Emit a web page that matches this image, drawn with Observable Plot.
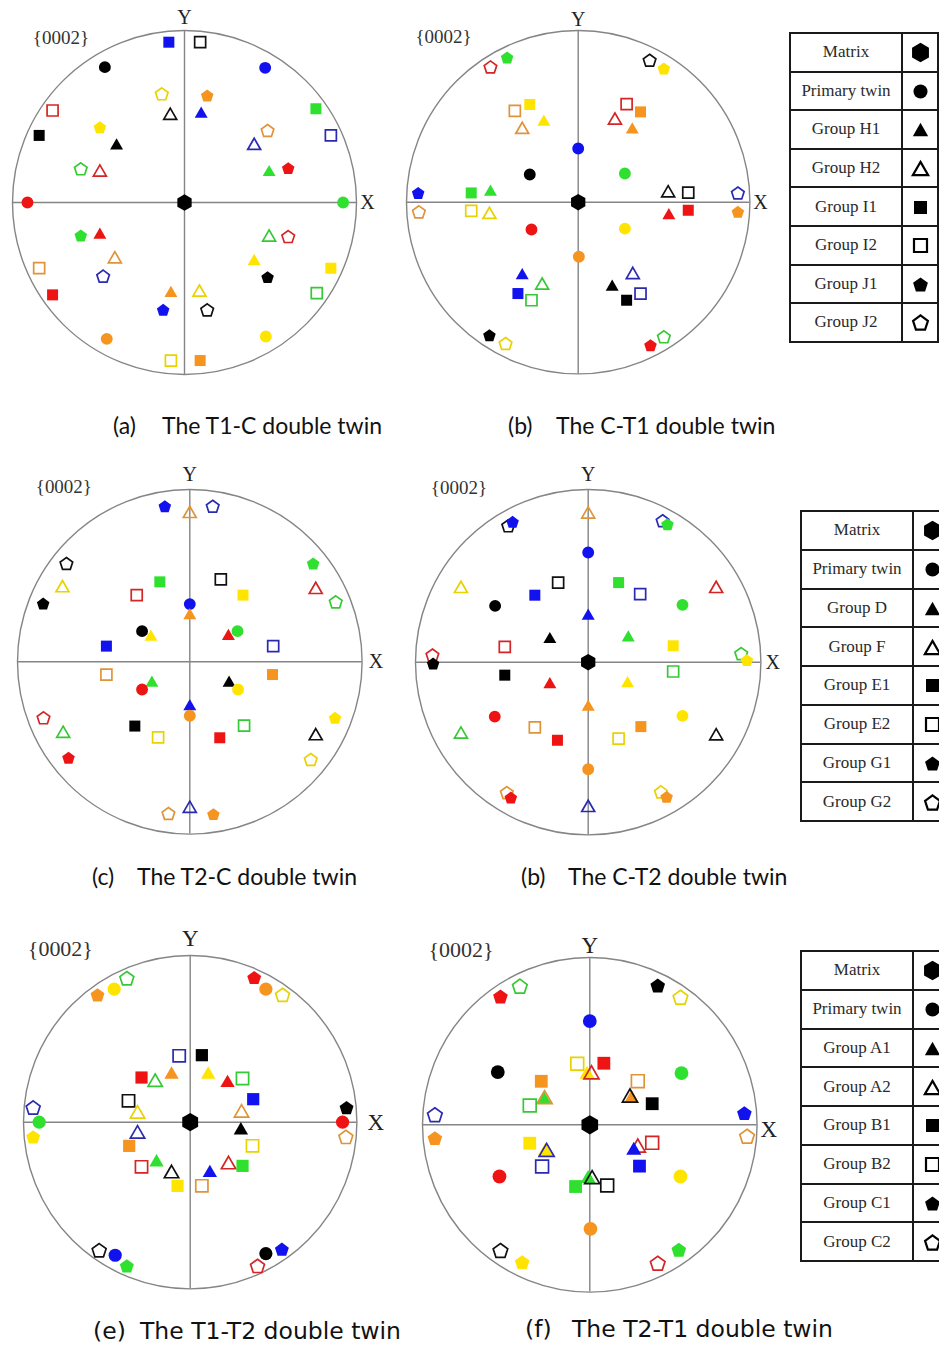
<!DOCTYPE html>
<html><head><meta charset="utf-8">
<script src="https://cdn.jsdelivr.net/npm/d3@7"></script>
<script src="https://cdn.jsdelivr.net/npm/@observablehq/plot@0.6"></script>
<style>
html,body{margin:0;padding:0;background:#fff;}
body{position:relative;width:939px;height:1346px;overflow:hidden;}
.fig{position:absolute;}
.fig svg{max-width:none;overflow:visible;background:transparent;}
.cap{position:absolute;white-space:pre;color:#111;line-height:28px;height:28px;}
.cap12{font-family:Lato,"Open Sans",sans-serif;font-size:23px;}
.cap3{font-family:"DejaVu Sans",sans-serif;font-size:23.5px;}
table.leg{position:absolute;border-collapse:collapse;table-layout:fixed;}
table.leg td{border:2px solid #1a1a1a;padding:0;text-align:center;vertical-align:middle;font-family:"Liberation Serif",serif;font-size:17px;color:#2a2a2a;}
table.leg td.sym svg{display:block;margin:0 auto;max-width:none;background:transparent;}
</style></head><body>
<script>
// ---------- DATA: [x, y, colour, shape]  (shape: H hexagon, C circle, T/t triangle filled/open, S/s square, P/p pentagon) ----------
const poleA = [
 [0,0,"k","H"],
 [-0.091,0.932,"b","S"],[0.091,0.932,"k","s"],
 [-0.463,0.787,"k","C"],[0.469,0.783,"b","C"],
 [-0.132,0.632,"y","p"],[0.132,0.622,"o","P"],
 [-0.083,0.516,"k","t"],[0.097,0.525,"b","T"],
 [-0.767,0.535,"r","s"],[0.764,0.545,"g","S"],
 [-0.492,0.438,"y","P"],[-0.845,0.390,"k","S"],
 [0.483,0.419,"o","p"],[0.851,0.390,"b","s"],
 [-0.395,0.341,"k","T"],[0.405,0.341,"b","t"],
 [-0.603,0.196,"g","p"],[-0.492,0.186,"r","t"],
 [0.492,0.186,"g","T"],[0.603,0.200,"r","P"],
 [-0.913,0,"r","C"],[0.922,0,"g","C"],
 [-0.603,-0.192,"g","P"],[-0.492,-0.178,"r","T"],
 [0.492,-0.192,"g","t"],[0.603,-0.198,"r","p"],
 [-0.405,-0.318,"o","t"],[0.405,-0.331,"y","T"],
 [-0.845,-0.382,"o","s"],[0.851,-0.382,"y","S"],
 [-0.473,-0.428,"b","p"],[0.483,-0.434,"k","P"],
 [-0.767,-0.537,"r","S"],[0.769,-0.527,"g","s"],
 [-0.079,-0.517,"o","T"],[0.087,-0.512,"y","t"],
 [-0.124,-0.624,"b","P"],[0.132,-0.624,"k","p"],
 [-0.452,-0.793,"o","C"],[0.473,-0.779,"y","C"],
 [-0.079,-0.919,"y","s"],[0.091,-0.919,"o","S"]
];
const poleB = [
 [0,0,"k","H"],
 [-0.511,0.788,"r","p"],[-0.414,0.843,"g","P"],
 [0.416,0.827,"k","p"],[0.499,0.779,"y","P"],
 [-0.369,0.532,"o","s"],[-0.282,0.569,"y","S"],
 [-0.200,0.478,"y","T"],[-0.326,0.433,"o","t"],
 [0.282,0.571,"r","s"],[0.363,0.526,"o","S"],
 [0.214,0.487,"r","t"],[0.315,0.433,"o","T"],
 [0,0.313,"b","C"],[-0.282,0.161,"k","C"],[0.272,0.167,"g","C"],
 [-0.932,0.054,"b","P"],[-0.623,0.054,"g","S"],[-0.511,0.070,"g","T"],
 [0.524,0.064,"k","t"],[0.641,0.056,"k","s"],[0.930,0.054,"b","p"],
 [-0.928,-0.056,"o","p"],[-0.623,-0.050,"y","s"],[-0.517,-0.062,"y","t"],
 [0.528,-0.066,"r","T"],[0.641,-0.047,"r","S"],[0.930,-0.056,"o","P"],
 [-0.272,-0.159,"r","C"],[0.272,-0.154,"y","C"],[0.004,-0.318,"o","C"],
 [-0.326,-0.416,"b","T"],[-0.210,-0.474,"g","t"],
 [-0.351,-0.532,"b","S"],[-0.272,-0.571,"g","s"],
 [0.318,-0.412,"b","t"],[0.198,-0.483,"k","T"],
 [0.363,-0.532,"b","s"],[0.282,-0.571,"k","S"],
 [-0.517,-0.775,"k","P"],[-0.423,-0.823,"y","p"],
 [0.421,-0.833,"r","P"],[0.499,-0.784,"g","p"]
];
const poleC = [
 [-0.145,0.903,"b","P"],[0,0.870,"o","t"],[0.133,0.903,"b","p"],
 [-0.716,0.571,"k","p"],[-0.739,0.439,"y","t"],[-0.851,0.338,"k","P"],
 [0.716,0.571,"g","P"],[0.731,0.429,"r","t"],[0.847,0.348,"g","p"],
 [-0.174,0.464,"g","S"],[-0.308,0.387,"r","s"],
 [0.180,0.478,"k","s"],[0.309,0.387,"y","S"],
 [0,0.335,"b","C"],[0,0.280,"o","T"],
 [-0.277,0.178,"k","C"],[-0.226,0.155,"y","T"],
 [0.224,0.159,"r","T"],[0.277,0.178,"g","C"],
 [-0.484,0.091,"b","S"],[0.484,0.091,"b","s"],
 [-0.484,-0.074,"o","s"],[0.480,-0.074,"o","S"],
 [-0.220,-0.112,"g","T"],[-0.277,-0.161,"r","C"],
 [0.228,-0.112,"k","T"],[0.280,-0.161,"y","C"],
 [0,-0.248,"b","T"],[0,-0.313,"o","C"],
 [-0.849,-0.325,"r","p"],[-0.735,-0.406,"g","t"],[-0.704,-0.557,"r","P"],
 [0.843,-0.325,"y","P"],[0.731,-0.420,"k","t"],[0.702,-0.567,"y","p"],
 [-0.319,-0.373,"k","S"],[-0.184,-0.439,"y","s"],
 [0.315,-0.371,"g","s"],[0.174,-0.441,"r","S"],
 [0,-0.841,"b","t"],[-0.124,-0.880,"o","p"],[0.137,-0.884,"o","P"]
];
const poleD = [
 [0,0,"k","H"],
 [0,0.867,"o","t"],
 [-0.463,0.790,"k","p"],[-0.438,0.813,"b","P"],
 [0.431,0.819,"b","p"],[0.459,0.799,"g","P"],
 [0,0.635,"b","C"],
 [-0.737,0.436,"y","t"],[-0.539,0.326,"k","C"],
 [-0.174,0.461,"k","s"],[-0.309,0.388,"b","S"],
 [0.176,0.461,"g","S"],[0.301,0.394,"b","s"],
 [0.741,0.436,"r","t"],[0.546,0.332,"g","C"],
 [0,0.278,"b","T"],[-0.222,0.143,"k","T"],[0.232,0.153,"g","T"],
 [-0.483,0.089,"r","s"],[0.492,0.095,"y","S"],
 [-0.902,0.042,"r","p"],[-0.898,-0.008,"k","P"],
 [0.886,0.050,"g","p"],[0.919,0.012,"y","P"],
 [-0.483,-0.075,"k","S"],[0.492,-0.054,"g","s"],
 [-0.222,-0.118,"r","T"],[0.228,-0.112,"y","T"],
 [0,-0.249,"o","T"],
 [-0.541,-0.315,"r","C"],[0.546,-0.311,"y","C"],
 [-0.309,-0.378,"o","s"],[-0.178,-0.452,"r","S"],
 [0.176,-0.442,"y","s"],[0.305,-0.373,"o","S"],
 [-0.737,-0.407,"g","t"],[0.741,-0.417,"k","t"],
 [0,-0.620,"o","C"],
 [-0.471,-0.755,"o","p"],[-0.448,-0.784,"r","P"],
 [0.421,-0.751,"y","p"],[0.454,-0.780,"o","P"],
 [0,-0.832,"b","t"]
];
const poleE = [
 [0,0,"k","H"],
 [-0.556,0.764,"o","P"],[-0.456,0.798,"y","C"],[-0.380,0.864,"g","p"],
 [0.384,0.868,"r","P"],[0.454,0.798,"o","C"],[0.554,0.764,"y","p"],
 [-0.066,0.398,"b","s"],[0.070,0.402,"k","S"],
 [-0.292,0.268,"r","S"],[-0.210,0.252,"g","t"],[-0.112,0.298,"o","T"],
 [0.108,0.298,"y","T"],[0.224,0.248,"r","T"],[0.314,0.262,"g","s"],
 [0.378,0.138,"b","S"],[-0.370,0.128,"k","s"],
 [-0.316,0.062,"y","t"],[0.308,0.068,"o","t"],
 [-0.942,0.088,"b","p"],[-0.906,0,"g","C"],[-0.942,-0.088,"y","P"],
 [0.938,0.088,"k","P"],[0.914,0,"r","C"],[0.934,-0.088,"o","p"],
 [-0.316,-0.058,"b","t"],[0.304,-0.036,"k","T"],
 [-0.366,-0.142,"o","S"],[0.374,-0.142,"y","s"],
 [-0.292,-0.268,"r","s"],[-0.202,-0.228,"g","T"],[-0.112,-0.296,"k","t"],
 [-0.076,-0.382,"y","S"],[0.070,-0.382,"o","s"],
 [0.118,-0.292,"b","T"],[0.230,-0.242,"r","t"],[0.314,-0.262,"g","S"],
 [-0.546,-0.768,"k","p"],[-0.450,-0.798,"b","C"],[-0.380,-0.862,"g","P"],
 [0.454,-0.788,"k","C"],[0.550,-0.762,"b","P"],[0.404,-0.862,"r","p"]
];
const poleF = [
 [0,0,"k","H"],
 [-0.534,0.767,"r","P"],[-0.418,0.829,"g","p"],
 [0.406,0.833,"k","P"],[0.542,0.763,"y","p"],
 [0,0.620,"b","C"],[-0.550,0.315,"k","C"],[0.548,0.309,"g","C"],
 [-0.075,0.365,"y","s"],[0.084,0.368,"r","S"],
 [-0.016,0.314,"y","T"],[0.010,0.314,"r","t"],
 [-0.290,0.260,"o","S"],[0.287,0.261,"o","s"],
 [-0.275,0.165,"g","T"],[-0.270,0.165,"o","t"],
 [0.250,0.170,"o","T"],[0.240,0.175,"k","t"],
 [0.373,0.126,"k","S"],[-0.359,0.115,"g","s"],
 [-0.926,0.060,"b","p"],[-0.926,-0.080,"o","P"],
 [0.924,0.070,"b","P"],[0.940,-0.068,"o","p"],
 [-0.359,-0.110,"y","S"],
 [-0.265,-0.145,"y","T"],[-0.258,-0.150,"b","t"],
 [-0.285,-0.249,"b","s"],
 [0.287,-0.124,"r","t"],[0.263,-0.140,"b","T"],
 [0.373,-0.108,"r","s"],[0.297,-0.247,"b","S"],
 [-0.010,-0.309,"g","T"],[0.014,-0.313,"k","t"],
 [-0.085,-0.369,"g","S"],[0.104,-0.363,"k","s"],
 [-0.540,-0.309,"r","C"],[0.542,-0.309,"y","C"],[0.004,-0.622,"o","C"],
 [-0.534,-0.751,"k","p"],[-0.404,-0.821,"y","P"],
 [0.406,-0.827,"r","p"],[0.532,-0.747,"g","P"]
];
const legendAB = ["Matrix","Primary twin","Group H1","Group H2","Group I1","Group I2","Group J1","Group J2"];
const legendCD = ["Matrix","Primary twin","Group D","Group F","Group E1","Group E2","Group G1","Group G2"];
const legendEF = ["Matrix","Primary twin","Group A1","Group A2","Group B1","Group B2","Group C1","Group C2"];
const legendShapes = ["H","C","T","t","S","s","P","p"];
const captionTags = ["(a)","(b)","(c)","(b)","(e)","(f)"];
const captionTexts = ["The T1-C double twin","The C-T1 double twin","The T2-C double twin","The C-T2 double twin","The T1-T2 double twin","The T2-T1 double twin"];
const axisTexts = ["{0002}","Y","X"];

// ---------- STYLE ----------
const FILL = {k:"#000000", b:"#1212ee", r:"#ee1414", g:"#2fe02f", y:"#ffe400", o:"#f5951f"};
const STROKE = {k:"#111111", b:"#2a2ab0", r:"#d42626", g:"#35c935", y:"#e8d200", o:"#e0943a"};
const BASE = {H:7.5, C:5.4, T:6.8, S:5.0, P:6.0};
function makeSymbol(kind) {
  return {draw(ctx, size) {
    const u = Math.sqrt(size / Math.PI), r = BASE[kind] * u;
    if (kind === "C") { ctx.moveTo(r, 0); ctx.arc(0, 0, r, 0, 2 * Math.PI); ctx.closePath(); return; }
    if (kind === "S") { ctx.moveTo(-r, -r); ctx.lineTo(r, -r); ctx.lineTo(r, r); ctx.lineTo(-r, r); ctx.closePath(); return; }
    const n = kind === "T" ? 3 : kind === "P" ? 5 : 6;
    const shift = kind === "T" ? 0.25 * r : kind === "P" ? 0.095 * r : 0;
    for (let i = 0; i < n; i++) {
      const a = 2 * Math.PI * i / n, px = r * Math.sin(a), py = -r * Math.cos(a) + shift;
      if (i) ctx.lineTo(px, py); else ctx.moveTo(px, py);
    }
    ctx.closePath();
  }};
}
const SYM = {H: makeSymbol("H"), C: makeSymbol("C"), T: makeSymbol("T"), S: makeSymbol("S"), P: makeSymbol("P")};
const isOpen = s => s !== s.toUpperCase();

const figs = [
 {data: poleA, cx:183.7, cy:202,    R:172,   k:1.1,  fsTag:19, fsXY:20, tag:[-0.882,0.959], Y:[0,1.077], X:[1.064,0]},
 {data: poleB, cx:577.7, cy:202,    R:171.7, k:1.1,  fsTag:19, fsXY:20, tag:[-0.948,0.961], Y:[0,1.064], X:[1.062,0]},
 {data: poleC, cx:189,   cy:661.7,  R:172.3, k:1.1,  fsTag:19, fsXY:20, tag:[-0.894,1.014], Y:[0,1.089], X:[1.080,0]},
 {data: poleD, cx:587.3, cy:661.3,  R:172.7, k:1.1,  fsTag:19, fsXY:20, tag:[-0.911,1.009], Y:[0,1.089], X:[1.068,0]},
 {data: poleE, cx:189.3, cy:1121.3, R:166.7, k:1.22, fsTag:22, fsXY:23, tag:[-0.974,1.040], Y:[0,1.101], X:[1.114,0]},
 {data: poleF, cx:589.3, cy:1124.3, R:167.3, k:1.28, fsTag:22, fsXY:23, tag:[-0.964,1.048], Y:[0,1.072], X:[1.070,-0.028]}
];
const M = 40;
const GRAY = "#858585";
const serif = "'Liberation Serif', 'Times New Roman', serif";

figs.forEach(f => {
  const W = 2 * f.R + 2 * M;
  const labels = [
    {x: f.tag[0], y: f.tag[1], t: axisTexts[0], a: "start", fs: f.fsTag},
    {x: f.Y[0], y: f.Y[1], t: axisTexts[1], a: "middle", fs: f.fsXY},
    {x: f.X[0], y: f.X[1], t: axisTexts[2], a: "middle", fs: f.fsXY}
  ];
  const chart = Plot.plot({
    width: W, height: W, margin: M,
    x: {domain: [-1, 1]}, y: {domain: [-1, 1]}, axis: null,
    symbol: {type: "identity"}, color: {type: "identity"},
    style: {background: "transparent", overflow: "visible"},
    marks: [
      Plot.ruleX([0], {y1: -1, y2: 1, stroke: GRAY, strokeWidth: 1.4}),
      Plot.ruleY([0], {x1: -1, x2: 1, stroke: GRAY, strokeWidth: 1.4}),
      Plot.dot([[0, 0]], {x: d => d[0], y: d => d[1], r: f.R, fill: "none", stroke: GRAY, strokeWidth: 1.4}),
      Plot.dot(f.data, {
        x: d => d[0], y: d => d[1],
        symbol: d => SYM[d[3].toUpperCase()],
        r: f.k,
        fill: d => isOpen(d[3]) ? "none" : FILL[d[2]],
        stroke: d => isOpen(d[3]) ? STROKE[d[2]] : "none",
        strokeWidth: 1.7
      }),
      Plot.text(labels.filter(l => l.a === "start"), {x: "x", y: "y", text: "t", textAnchor: "start", fontSize: f.fsTag, fontFamily: serif, fill: "#333"}),
      Plot.text(labels.filter(l => l.a === "middle"), {x: "x", y: "y", text: "t", textAnchor: "middle", fontSize: f.fsXY, fontFamily: serif, fill: "#222"})
    ]
  });
  const div = document.createElement("div");
  div.className = "fig";
  div.style.left = (f.cx - f.R - M) + "px";
  div.style.top = (f.cy - f.R - M) + "px";
  div.style.width = W + "px";
  div.appendChild(chart);
  document.body.appendChild(div);
});

// captions
const capLayout = [
 {tx:113, x:162, y:425, cls:"cap12"}, {tx:508, x:556, y:425, cls:"cap12"},
 {tx:92,  x:137, y:876, cls:"cap12"}, {tx:521, x:568, y:876, cls:"cap12"},
 {tx:93,  x:140, y:1331, cls:"cap3"}, {tx:525, x:572, y:1329, cls:"cap3"}
];
capLayout.forEach((c, i) => {
  for (const [txt, x] of [[captionTags[i], c.tx], [captionTexts[i], c.x]]) {
    const d = document.createElement("div");
    d.className = "cap " + c.cls;
    d.textContent = txt;
    d.style.left = x + "px";
    d.style.top = (c.y - 14) + "px";
    document.body.appendChild(d);
  }
});

// legends
const legLayout = [
 {labels: legendAB, left: 789, top: 32,  w1: 112, w2: 36, rh: 38.6},
 {labels: legendCD, left: 800, top: 510, w1: 112, w2: 38, rh: 38.75},
 {labels: legendEF, left: 800, top: 950, w1: 112, w2: 38, rh: 38.75}
];
legLayout.forEach(L => {
  const t = document.createElement("table");
  t.className = "leg";
  t.style.left = L.left + "px";
  t.style.top = L.top + "px";
  t.style.width = (L.w1 + L.w2) + "px";
  const cg = document.createElement("colgroup");
  cg.innerHTML = `<col style="width:${L.w1}px"><col style="width:${L.w2}px">`;
  t.appendChild(cg);
  L.labels.forEach((lab, i) => {
    const tr = document.createElement("tr");
    tr.style.height = L.rh + "px";
    const td1 = document.createElement("td");
    td1.textContent = lab;
    const td2 = document.createElement("td");
    td2.className = "sym";
    const s = legendShapes[i];
    td2.appendChild(Plot.plot({
      width: 30, height: 30, margin: 0,
      x: {domain: [-1, 1]}, y: {domain: [-1, 1]}, axis: null,
      style: {background: "transparent", overflow: "visible"},
      marks: [Plot.dot([[0, 0]], {x: d => d[0], y: d => d[1], symbol: SYM[s.toUpperCase()], r: 1.3,
        fill: isOpen(s) ? "none" : "#000", stroke: isOpen(s) ? "#000" : "none", strokeWidth: 2.2})]
    }));
    tr.appendChild(td1); tr.appendChild(td2);
    t.appendChild(tr);
  });
  document.body.appendChild(t);
});
</script></body></html>
